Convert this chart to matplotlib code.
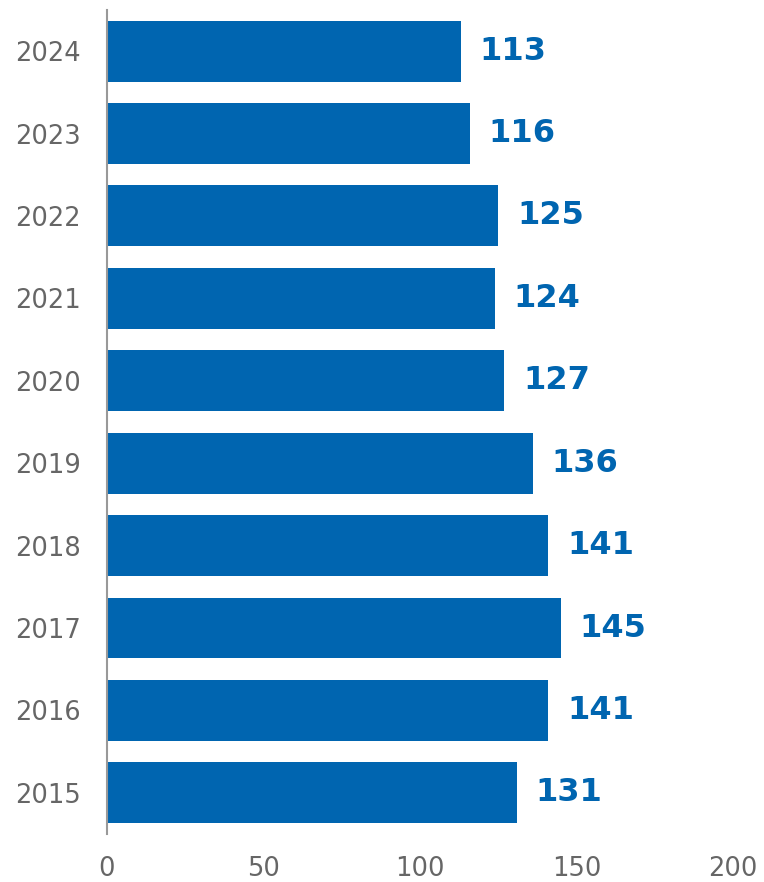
import matplotlib.pyplot as plt

# years from bottom to top
years = ['2015', '2016', '2017', '2018', '2019', '2020', '2021', '2022', '2023', '2024']
values = [131, 141, 145, 141, 136, 127, 124, 125, 116, 113]

BLUE = '#0065b0'
GREY = '#666666'

fig = plt.figure(figsize=(7.64, 8.82), dpi=100)
ax = fig.add_axes([0.140, 0.0544, 0.8194, 0.9343])

pos = range(len(years))
ax.barh(pos, values, height=0.74, color=BLUE)

for p, v in zip(pos, values):
    ax.text(v + 6, p, str(v), va='center', ha='left',
            fontsize=23, fontweight='heavy', color=BLUE)

ax.set_xlim(0, 200)
ax.set_ylim(-0.5, 9.5)
ax.set_yticks(list(pos))
ax.set_yticklabels(years)
ax.set_xticks([0, 50, 100, 150, 200])

for s in ['top', 'right', 'bottom']:
    ax.spines[s].set_visible(False)
ax.spines['left'].set_color('#999999')
ax.spines['left'].set_linewidth(1.5)

ax.tick_params(axis='y', length=0, pad=19, labelsize=18.5, labelcolor=GREY)
ax.tick_params(axis='x', length=0, pad=16, labelsize=18.5, labelcolor=GREY)

plt.savefig('out.png', dpi=100)
